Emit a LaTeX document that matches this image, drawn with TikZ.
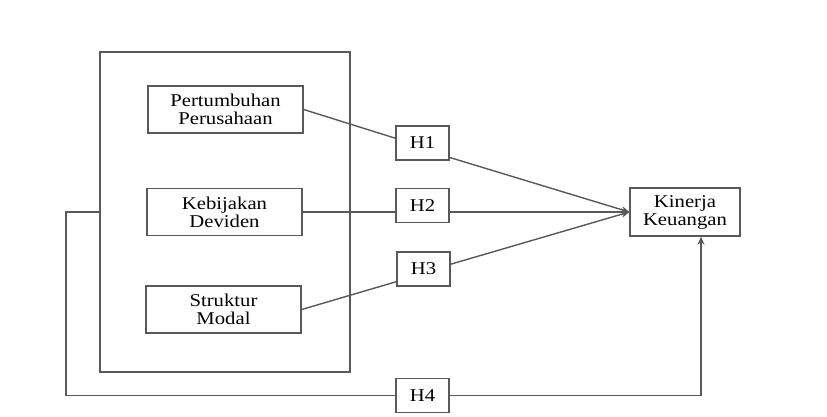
\documentclass[tikz,border=0pt]{standalone}
\usepackage{fontspec}
\setmainfont{Liberation Serif}[FakeStretch=1.15]
\usetikzlibrary{arrows.meta,positioning,calc}
\tikzset{
    % Colors
    line color/.style={black!65},
    %
    % Boxes
    var box/.style={draw,line color,line width=1.4pt,text=black,align=center,
        minimum width=155pt,minimum height=47pt,inner sep=2pt},
    hyp box/.style={draw,line color,line width=1.4pt,text=black,
        minimum width=53pt,minimum height=34pt,inner sep=2pt},
    group box/.style={draw,line color,line width=1.4pt,minimum width=250pt,minimum height=320pt},
    %
    % Arrows
    arrow tip/.tip={Stealth[length=8pt,width=7pt]},
    arr/.style={->,>={arrow tip}},
    conn/.style={line color,line width=1.4pt},
}
\tikzstyle{every node}=[font=\fontsize{18}{18}\selectfont]

\begin{document}
\begin{tikzpicture}[x=1pt,y=-1pt]
        \useasboundingbox (0,0) rectangle (827,416);
        % independent variables
        \node[group box] (grp) at (225,212) {};
        \node[var box] (pert) at (225.5,109.5) {Pertumbuhan\\Perusahaan};
        \node[var box] (kebi) at (224.5,212) {Kebijakan\\Deviden};
        \node[var box] (strk) at (223.5,309.5) {Struktur\\Modal};
        % hypotheses
        \node[hyp box] (h1) at (422.5,143) {H1};
        \node[hyp box] (h2) at (422.5,205.5) {H2};
        \node[hyp box] (h3) at (423.5,269) {H3};
        \node[hyp box] (h4) at (422.5,395.5) {H4};
        % dependent variable
        \node[var box,minimum width=110pt,minimum height=48pt] (kin) at (685,212) {Kinerja\\Keuangan};
        \coordinate (bend) at (66,212);
        % connectors
        \draw[conn] (pert.east) -- (h1.170);
        \draw[conn,arr] (h1.332) -- (kin.west);
        \draw[conn] (kebi.east) -- (kebi.east -| h2.west);
        \draw[conn,arr] (h2.east |- kebi.east) -- (kin.west);
        \draw[conn] (strk.east) -- (h3.205);
        \draw[conn,arr] (h3.10) -- (kin.west);
        \draw[conn] (grp.west) -- (bend) |- (h4.west);
        \draw[conn,arr] (h4.east) -| ([xshift=16pt]kin.south);
    \end{tikzpicture}
\end{document}
